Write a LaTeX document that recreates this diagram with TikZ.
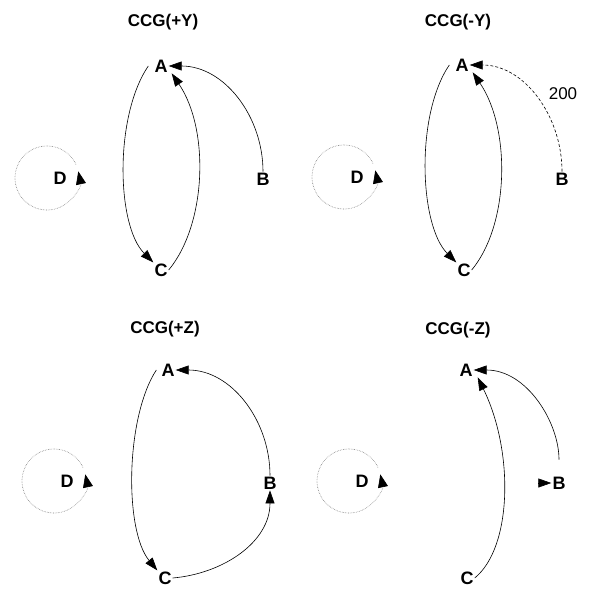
\documentclass[tikz,border=0pt]{standalone}
\usepackage{fontspec}
\setmainfont{Liberation Sans}
\usetikzlibrary{arrows.meta}

\begin{document}
\begin{tikzpicture}[x=1pt, y=1pt,
    vtx/.style={font=\fontsize{18}{21}\selectfont\bfseries, inner sep=1pt},
    ttl/.style={font=\fontsize{17}{20}\selectfont\bfseries, inner sep=0pt},
    lbl/.style={font=\fontsize{17}{20}\selectfont, inner sep=1pt},
    arr/.style={-{Triangle[length=13pt, width=9pt]}, line width=0.6pt},
    selfloop/.style={draw=gray, densely dotted, line width=0.6pt, -{Triangle[length=13pt, width=10pt, color=black]}}
]
\useasboundingbox (0,-588) rectangle (596,0);

% CCG(+Y)
\node[ttl] (tpy) at (163,-22) {CCG(+Y)};
\node[vtx] (A1) at (161,-66) {A};
\node[vtx] (B1) at (263,-179) {B};
\node[vtx] (C1) at (161,-270) {C};
\node[vtx] (D1) at (60,-178) {D};
\coordinate (D1c) at ([xshift=-13pt]D1.center);

\draw[arr] ([xshift=-5pt]A1.west) .. controls +(-34,-50) and +(-37,37) .. (C1.north west);
\draw[arr] (C1.east) .. controls +(38,46) and +(38,-56) .. ([xshift=3pt]A1.south east);
\draw[arr] (B1.north) to[out=90, in=0] (A1.east);
\draw[selfloop] (D1c) ++(25:32) arc[start angle=25, end angle=372, radius=32];

% CCG(-Y)
\node[ttl] (tmy) at (458,-22) {CCG(-Y)};
\node[vtx] (A2) at (462,-65) {A};
\node[vtx] (B2) at (562,-179) {B};
\node[vtx] (C2) at (464,-270) {C};
\node[vtx] (D2) at (357,-177) {D};
\coordinate (D2c) at ([xshift=-13pt]D2.center);

\draw[arr] ([xshift=-5pt]A2.west) .. controls +(-34,-50) and +(-37,37) .. (C2.north west);
\draw[arr] (C2.east) .. controls +(38,46) and +(38,-56) .. ([xshift=3pt]A2.south east);
\draw[arr, dash pattern=on 3pt off 2pt] (B2.north) to[out=90, in=0]
    node[lbl, pos=0.5, right=11pt, yshift=4pt] (w200) {200} (A2.east);
\draw[selfloop] (D2c) ++(25:32) arc[start angle=25, end angle=372, radius=32];

% CCG(+Z)
\node[ttl] (tpz) at (165,-329) {CCG(+Z)};
\node[vtx] (A3) at (168,-370) {A};
\node[vtx] (B3) at (270,-483) {B};
\node[vtx] (C3) at (165,-578) {C};
\node[vtx] (D3) at (67,-481) {D};
\coordinate (D3c) at ([xshift=-13pt]D3.center);

\draw[arr] ([xshift=-4pt]A3.west) .. controls +(-31,-48) and +(-33,40) .. (C3.north west);
\draw[arr] (C3.east) to[out=5, in=-90] (B3.south);
\draw[arr] (B3.north) to[out=90, in=0] (A3.east);
\draw[selfloop] (D3c) ++(25:32) arc[start angle=25, end angle=372, radius=32];

% CCG(-Z)
\node[ttl] (tmz) at (458,-330) {CCG(-Z)};
\node[vtx] (A4) at (466,-370) {A};
\node[vtx] (B4) at (559,-483) {B};
\node[vtx] (C4) at (467,-578) {C};
\node[vtx] (D4) at (362,-481) {D};
\coordinate (D4c) at ([xshift=-13pt]D4.center);
\coordinate (B4in) at ([xshift=-13pt]B4.west);

\draw[arr] (C4.east) .. controls +(38,31) and +(36,-73) .. ([xshift=4pt]A4.south east);
\draw[arr, shorten <=16pt] (B4.north) to[out=90, in=0] (A4.east);
\draw[arr] (B4in) -- (B4.west);
\draw[selfloop] (D4c) ++(25:32) arc[start angle=25, end angle=372, radius=32];

\end{tikzpicture}
\end{document}
